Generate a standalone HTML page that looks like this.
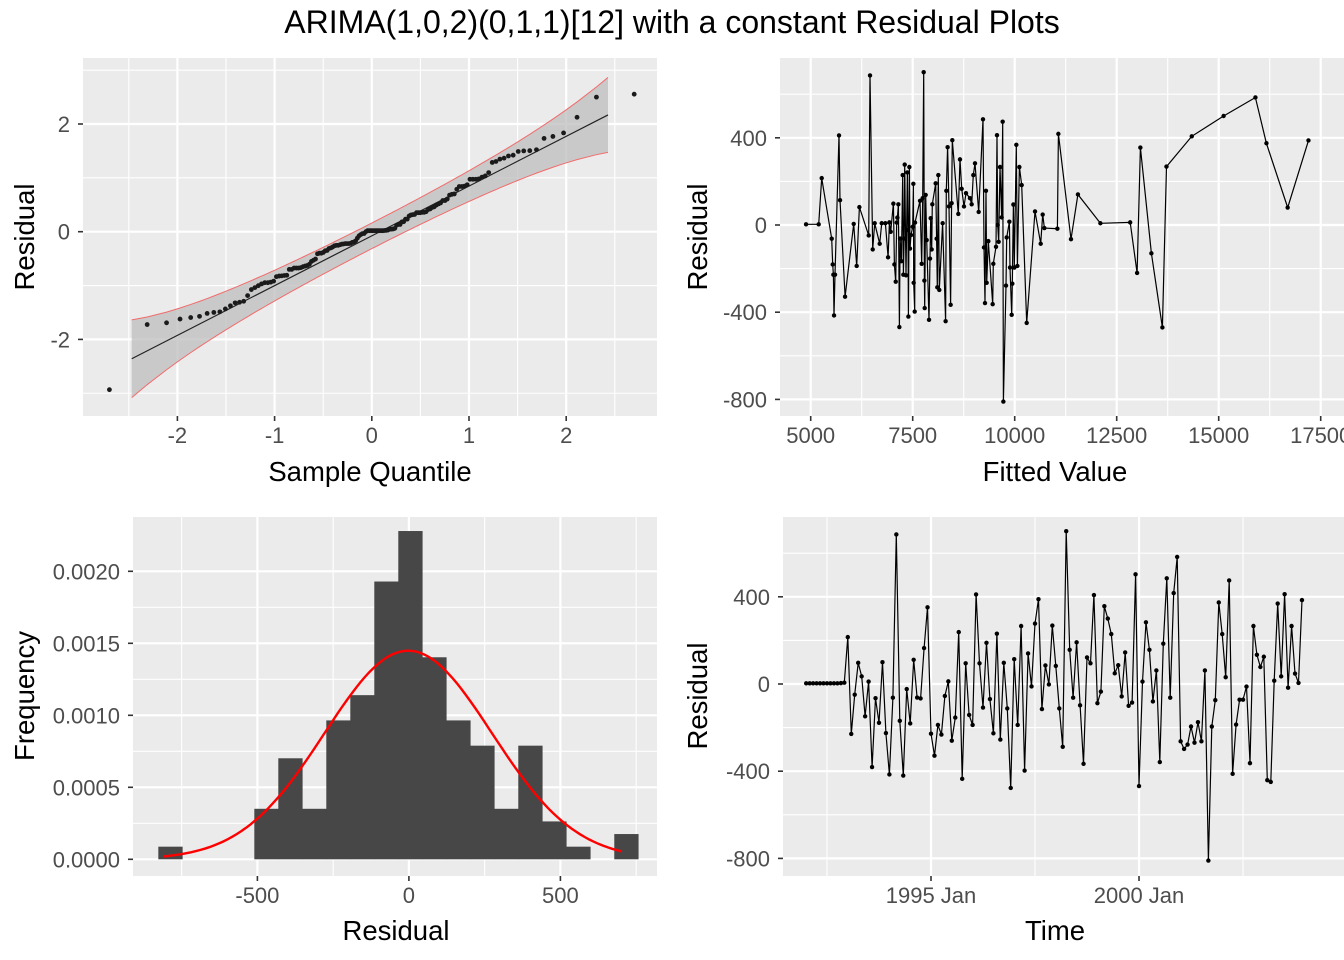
<!DOCTYPE html>
<html><head><meta charset="utf-8">
<style>
html,body{margin:0;padding:0;background:#fff;}
svg{display:block;font-family:"Liberation Sans",Arial,sans-serif;}
</style></head>
<body>
<svg id="root" width="1344" height="960" viewBox="0 0 1344 960">
<text x="672" y="33" text-anchor="middle" font-size="32" fill="#000">ARIMA(1,0,2)(0,1,1)[12] with a constant Residual Plots</text>
</svg>
<script>
// ---------- data ----------
const residuals = [3,3,3,3,3,3,3,3,3,3,4,6,
215,-229,-49,97,35,-148,11,-381,-65,-178,100,-225,-415,-63,686,-169,-420,-23,-181,111,-62,-66,165,352,-228,-329,-188,-232,-55,12,-260,-154,238,-435,95,-142,-188,411,95,-108,189,-69,-226,231,-255,97,-112,-477,114,-188,266,-397,140,-11,277,389,-115,85,
-2,268,83,-112,-288,
701,157,-63,191,-98,-366,122,95,408,-88,-35,357,300,229,49,86,-57,145,-100,-85,503,-468,11,283,157,-80,62,-358,185,485,-63,417,583,-263,-298,-278,-195,-269,-175,-263,62,-810,-195,-74,374,229,31,475,-412,-186,-72,-72,-12,-363,266,134,78,125,-441,-449,15,369,35,412,-17,266,48,5,385];
const startYear = 1992;

const fittedVals = [4886,5196,5270,5515,5540,5556,5572,5596,5694,5719,5842,6054,6127,6193,6422,6454,6520,6569,6691,6740,6830,6896,6928,6961,7026,7051,7084,7108,7124,7149,7173,7190,7222,7255,7271,7288,7304,7337,7369,7386,7394,7418,7434,7459,7500,7516,7524,7549,7557,7680,7720,7745,7769,7786,7794,7818,7843,7900,7924,7941,7965,7981,8063,8087,8103,8128,8152,8234,8307,8324,8356,8389,8430,8454,8471,8618,8659,8700,8757,8806,8904,8945,8986,9027,9117,9223,9247,9272,9296,9313,9354,9460,9476,9542,9566,9583,9607,9640,9681,9705,9722,9787,9804,9869,9885,9926,9942,9967,9991,10040,10065,10114,10171,10294,10498,10637,10686,10727,11046,11070,11380,11550,12100,12830,13000,13080,13350,13620,13720,14340,15120,15900,16170,16690,17200];
const fittedResid = [3,3,215,-63,-181,-228,-415,-228,411,114,-329,5,-188,82,-48,686,-112,8,-86,8,8,-148,12,-31,98,-181,-260,11,34,95,-468,-62,-166,229,-228,-62,277,-231,241,-23,-420,266,-108,-46,-8,189,-265,-397,11,111,-178,123,701,-255,-381,138,-69,-435,-154,31,-112,95,191,-63,-286,229,-298,8,-441,157,357,85,-366,100,389,51,301,166,85,146,123,95,229,283,60,485,-103,-358,157,-265,-74,-363,-178,-100,412,0,-77,266,35,474,-810,-278,-57,15,-195,-412,-269,94,-195,368,-188,266,183,-449,62,-86,48,-14,-17,418,-65,140,8,12,-220,355,-130,-470,268,407,500,585,375,80,388];

const histCounts = [1,0,0,0,4,8,4,11,13,22,26,16,11,9,4,9,3,1,0,2];
const histStart = -827;
const histWidth = 79.2;

const qqXTicks = [-2,-1,0,1,2];
const qqYTicks = [-2,0,2];
const fitXTicks = [5000,7500,10000,12500,15000,17500];
const residTicks = [-800,-400,0,400];
const histXTicks = [-500,0,500];
const histYTicks = [0,0.0005,0.001,0.0015,0.002];
const histYLabels = ["0.0000","0.0005","0.0010","0.0015","0.0020"];
const timeTicks = [1995,2000];
const timeLabels = ["1995 Jan","2000 Jan"];

// ---------- helpers ----------
const NS = "http://www.w3.org/2000/svg";
const root = document.getElementById('root');
function mk(tag, attrs, parent){
  const e = document.createElementNS(NS, tag);
  for (const k in attrs) e.setAttribute(k, attrs[k]);
  (parent||root).appendChild(e);
  return e;
}
function panel(name, L, R, T, B){
  const g = mk('g', {});
  
  
  const bg = mk('rect', {x:L, y:T, width:R-L, height:B-T, fill:'#ebebeb'}, g);
  
  
  return g;
}
function vgrid(g, x, T, B, major){
  const l = mk('line', {x1:x, x2:x, y1:T, y2:B, stroke:'#fff', 'stroke-width': major?2.2:1.1}, g);
  
  
}
function hgrid(g, y, L, R, major){
  const l = mk('line', {x1:L, x2:R, y1:y, y2:y, stroke:'#fff', 'stroke-width': major?2.2:1.1}, g);
  
  
}
function xtick(g, x, B, label){
  mk('line', {x1:x, x2:x, y1:B, y2:B+5, stroke:'#333', 'stroke-width':1.6}, g);
  const t = mk('text', {x:x, y:B+27, 'text-anchor':'middle', 'font-size':22, fill:'#4d4d4d'}, g);
  t.textContent = label;
  
  
}
function ytick(g, y, L, label){
  mk('line', {x1:L-5, x2:L, y1:y, y2:y, stroke:'#333', 'stroke-width':1.6}, g);
  const t = mk('text', {x:L-13, y:y+8, 'text-anchor':'end', 'font-size':22, fill:'#4d4d4d'}, g);
  t.textContent = label;
  
  
}
function xtitle(g, x, y, label){
  const t = mk('text', {x:x, y:y, 'text-anchor':'middle', 'font-size':27.5, fill:'#000'}, g);
  t.textContent = label;
  
  
}
function ytitle(g, x, y, label){
  const t = mk('text', {x:x, y:y, 'text-anchor':'middle', 'font-size':27.5, fill:'#000', transform:`rotate(-90 ${x} ${y})`}, g);
  t.textContent = label;
  
  
}
function fmt(v){ return v < 0 ? '-' + Math.abs(v) : String(v); }

function qnorm(p){
  const a=[-39.69683028665376,220.9460984245205,-275.9285104469687,138.3577518672690,-30.66479806614716,2.506628277459239];
  const b=[-54.47609879822406,161.5853874815399,-155.6989798598866,66.80131188771972,-13.28068155288572];
  const c=[-0.007784894002430293,-0.3223964580411365,-2.400758277161838,-2.549732539343734,4.374664141464968,2.938163982698783];
  const d=[0.007784695709041462,0.3224671290700398,2.445134137142996,3.754408661907416];
  const pl=0.02425;
  let q,r;
  if(p<pl){q=Math.sqrt(-2*Math.log(p));return (((((c[0]*q+c[1])*q+c[2])*q+c[3])*q+c[4])*q+c[5])/((((d[0]*q+d[1])*q+d[2])*q+d[3])*q+1);}
  if(p>1-pl){q=Math.sqrt(-2*Math.log(1-p));return -(((((c[0]*q+c[1])*q+c[2])*q+c[3])*q+c[4])*q+c[5])/((((d[0]*q+d[1])*q+d[2])*q+d[3])*q+1);}
  q=p-0.5;r=q*q;
  return (((((a[0]*r+a[1])*r+a[2])*r+a[3])*r+a[4])*r+a[5])*q/(((((b[0]*r+b[1])*r+b[2])*r+b[3])*r+b[4])*r+1);
}
function dnorm(x){ return Math.exp(-x*x/2)/Math.sqrt(2*Math.PI); }

const n = residuals.length;
const mean = residuals.reduce((s,v)=>s+v,0)/n;
const sd = Math.sqrt(residuals.reduce((s,v)=>s+(v-mean)*(v-mean),0)/(n-1));
const sdAdj = sd*1.09;

// ---------- Panel 1: QQ ----------
(function(){
  const L=83,R=657,T=58,B=416;
  const xs = v => 371.8 + 97.2*v;
  const ys = v => 231.7 - 53.85*v;
  const g = panel('qq-plot-panel', L,R,T,B);
  for (let v=-2.5; v<=2.51; v+=0.5){ const major = Math.abs(v-Math.round(v))<1e-6; vgrid(g, xs(v), T, B, major); }
  for (let v=-3; v<=3; v+=1){ hgrid(g, ys(v), L, R, v%2===0); }
  const sorted = residuals.map(v=>(v-mean)/sdAdj).sort((a,b)=>a-b);
  const theo = sorted.map((_,i)=>qnorm((i+0.5)/n));
  const slope = 0.924, icpt = -0.077, k = 0.19;
  const xlo = -2.47, xhi = 2.43;
  const bx = [xlo]; theo.forEach(t=>{ if(t>xlo && t<xhi) bx.push(t); }); bx.push(xhi);
  const hw = x => { const p = 0.5*(1+Math.sign(x)*Math.sqrt(1-Math.exp(-2*x*x/Math.PI))); return k*Math.sqrt(p*(1-p))/dnorm(x); };
  const up = bx.map(x=>[xs(x), ys(slope*x+icpt+hw(x))]);
  const lo = bx.map(x=>[xs(x), ys(slope*x+icpt-hw(x))]);
  const band = mk('polygon', {points: up.concat(lo.slice().reverse()).map(p=>p.join(',')).join(' '), fill:'#bdbdbd', 'fill-opacity':0.75}, g);
  
  
  const bu = mk('polyline', {points: up.map(p=>p.join(',')).join(' '), fill:'none', stroke:'#f26b6b', 'stroke-width':1}, g);
  
  
  const bl = mk('polyline', {points: lo.map(p=>p.join(',')).join(' '), fill:'none', stroke:'#f26b6b', 'stroke-width':1}, g);
  
  
  const rl = mk('line', {x1:xs(xlo), y1:ys(slope*xlo+icpt), x2:xs(xhi), y2:ys(slope*xhi+icpt), stroke:'#222', 'stroke-width':1.2}, g);
  
  
  sorted.forEach((v,i)=>{
    const c = mk('circle', {cx:xs(theo[i]), cy:ys(v), r:2.4, fill:'#1a1a1a'}, g);
    
    
  });
  qqXTicks.forEach(v=>xtick(g, xs(v), B, fmt(v)));
  qqYTicks.forEach(v=>ytick(g, ys(v), L, fmt(v)));
  xtitle(g, 370, 481, 'Sample Quantile');
  ytitle(g, 34, 237, 'Residual');
})();

// ---------- Panel 2: residual vs fitted ----------
(function(){
  const L=780,R=1344,T=58,B=416;
  const xs = v => 810.7 + (v-5000)*0.0408;
  const ys = v => 225 - 0.218*v;
  const g = panel('residual-vs-fitted-panel', L,R,T,B);
  for (let v=5000; v<=18750; v+=1250){ const x=xs(v); if(x<R) vgrid(g, x, T, B, v%2500===0); }
  for (let v=-800; v<=600; v+=200){ hgrid(g, ys(v), L, R, v%400===0); }
  const pts = fittedVals.map((f,i)=>xs(f).toFixed(1)+','+ys(fittedResid[i]).toFixed(1)).join(' ');
  const pl = mk('polyline', {points:pts, fill:'none', stroke:'#000', 'stroke-width':1.2}, g);
  
  
  fittedVals.forEach((f,i)=>{
    const c = mk('circle', {cx:xs(f), cy:ys(fittedResid[i]), r:2.2, fill:'#000'}, g);
    
    
  });
  fitXTicks.forEach(v=>xtick(g, xs(v), B, String(v)));
  residTicks.forEach(v=>ytick(g, ys(v), L, fmt(v)));
  xtitle(g, 1055, 481, 'Fitted Value');
  ytitle(g, 707, 237, 'Residual');
})();

// ---------- Panel 3: histogram ----------
(function(){
  const L=133,R=657,T=517,B=876;
  const xs = v => 408.9 + 0.303*v;
  const ys = v => 859.3 - 144000*v;
  const g = panel('residual-histogram-panel', L,R,T,B);
  for (let v=-750; v<=750; v+=250){ vgrid(g, xs(v), T, B, v%500===0); }
  for (let v=0; v<=0.00225; v+=0.00025){ hgrid(g, ys(v), L, R, Math.abs(v/0.0005-Math.round(v/0.0005))<1e-6); }
  histCounts.forEach((c,i)=>{
    if(!c) return;
    const dens = c/(n*histWidth);
    const x0 = xs(histStart + i*histWidth), x1 = xs(histStart + (i+1)*histWidth);
    const r = mk('rect', {x:x0, y:ys(dens), width:x1-x0+0.3, height:ys(0)-ys(dens), fill:'#474747'}, g);
    
    
  });
  const mn = Math.min(...residuals), mx = Math.max(...residuals);
  const cp = [];
  for (let i=0;i<=100;i++){ const v = mn + (mx-mn)*i/100; cp.push(xs(v).toFixed(1)+','+ys(dnorm((v-mean)/sdAdj)/sdAdj).toFixed(1)); }
  const curve = mk('polyline', {points:cp.join(' '), fill:'none', stroke:'#ff0000', 'stroke-width':2.4}, g);
  
  
  histXTicks.forEach(v=>xtick(g, xs(v), B, fmt(v)));
  histYTicks.forEach((v,i)=>ytick(g, ys(v), L, histYLabels[i]));
  xtitle(g, 396, 940, 'Residual');
  ytitle(g, 34, 696, 'Frequency');
})();

// ---------- Panel 4: residual over time ----------
(function(){
  const L=783,R=1344,T=517,B=876;
  const xs = monthsFrom1995 => 931 + monthsFrom1995*3.467;
  const ys = v => 684 - 0.218*v;
  const g = panel('residual-time-series-panel', L,R,T,B);
  for (let y=1992.5; y<=2005; y+=2.5){ const x = xs((y-1995)*12); if(x>L && x<R) vgrid(g, x, T, B, Math.abs(y%5)<1e-6); }
  for (let v=-800; v<=600; v+=200){ hgrid(g, ys(v), L, R, v%400===0); }
  const mi = i => (startYear-1995)*12 + i;
  const pts = residuals.map((v,i)=>xs(mi(i)).toFixed(1)+','+ys(v).toFixed(1)).join(' ');
  const pl = mk('polyline', {points:pts, fill:'none', stroke:'#000', 'stroke-width':1.2}, g);
  
  
  residuals.forEach((v,i)=>{
    const c = mk('circle', {cx:xs(mi(i)), cy:ys(v), r:2.2, fill:'#000'}, g);
    
    
  });
  timeTicks.forEach((y,i)=>xtick(g, xs((y-1995)*12), B, timeLabels[i]));
  residTicks.forEach(v=>ytick(g, ys(v), L, fmt(v)));
  xtitle(g, 1055, 940, 'Time');
  ytitle(g, 707, 696, 'Residual');
})();
</script>
</body></html>
